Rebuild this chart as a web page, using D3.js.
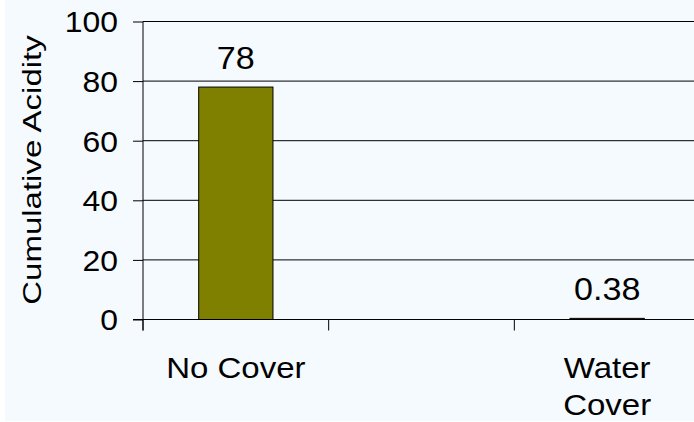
<!DOCTYPE html>
<html><head><meta charset="utf-8">
<script src="https://cdn.jsdelivr.net/npm/d3@7"></script>
<style>
html,body{margin:0;padding:0;background:#fff;overflow:hidden}
svg{display:block;font-family:"Liberation Sans",Arial,sans-serif}
</style>
</head><body><svg id="chart" width="694" height="422"></svg>
<script>
// Chart data
const categories = ["No Cover", "", "Water Cover"];
const acidity = [78, null, 0.38];
const valueLabels = ["78", null, "0.38"];
const yTickValues = [0, 20, 40, 60, 80, 100];
const yTitle = "Cumulative Acidity";

const W = 694, H = 422;
const plot = {left: 143, right: 700, top: 21.5, bottom: 319.5};
const textStretch = 1.1;

const svg = d3.select("#chart");
svg.append("rect").attr("x", 5).attr("y", 0).attr("width", W - 5).attr("height", H - 1).attr("fill", "#F5FAFE");

const x = d3.scaleBand().domain(categories).range([plot.left, plot.right]).padding(0);
const y = d3.scaleLinear().domain([0, 100]).range([plot.bottom, plot.top]);

// horizontal gridlines
svg.append("g").selectAll("line").data(yTickValues.filter(v => v > 0)).join("line")
  .attr("x1", plot.left).attr("x2", plot.right)
  .attr("y1", d => y(d)).attr("y2", d => y(d))
  .attr("stroke", "#000").attr("stroke-width", 1);

// bars
const rows = categories.map((c, i) => ({c, v: acidity[i], label: valueLabels[i]})).filter(d => d.v != null);
const barW = x.bandwidth() * 0.4;
svg.append("g").selectAll("rect").data(rows).join("rect")
  .attr("x", d => x(d.c) + (x.bandwidth() - barW) / 2)
  .attr("y", d => y(d.v))
  .attr("width", barW)
  .attr("height", d => y(0) - y(d.v))
  .attr("fill", "#808000").attr("stroke", "#000").attr("stroke-width", 1);

// value labels
svg.append("g").selectAll("text").data(rows).join("text")
  .attr("transform", d => `translate(${x(d.c) + x.bandwidth() / 2},${y(d.v) - 18}) scale(${textStretch},1)`)
  .attr("text-anchor", "middle").attr("font-size", 31).attr("fill", "#000")
  .text(d => d.label);

// y axis
const yAxis = svg.append("g").attr("transform", `translate(${plot.left},0)`)
  .call(d3.axisLeft(y).tickValues(yTickValues).tickSize(10).tickSizeOuter(0));
yAxis.select(".domain").remove();
yAxis.selectAll(".tick line").attr("stroke", "#000");
yAxis.selectAll(".tick text").remove();
yAxis.selectAll(".tick").append("text")
  .attr("transform", `translate(-25,10.3) scale(${textStretch},1)`)
  .attr("text-anchor", "end").attr("font-size", 29).attr("fill", "#000")
  .text(d => d);
svg.append("line").attr("x1", plot.left).attr("x2", plot.left)
  .attr("y1", plot.top).attr("y2", y(0) + 11).attr("stroke", "#000");

// x axis with ticks between categories
const xAxis = svg.append("g").attr("transform", `translate(0,${y(0)})`);
xAxis.append("line").attr("x1", plot.left - 10).attr("x2", plot.right).attr("stroke", "#000");
const bounds = categories.map(c => x(c)).concat([plot.right]);
xAxis.selectAll(".bt").data(bounds).join("line").attr("class", "bt")
  .attr("x1", d => d).attr("x2", d => d).attr("y1", 0).attr("y2", 11).attr("stroke", "#000");

// category labels, wrapped to the band width
const maxLabelW = 160;
categories.forEach(c => {
  if (!c) return;
  const t = xAxis.append("text")
    .attr("transform", `translate(${x(c) + x.bandwidth() / 2},58.2) scale(${textStretch},1)`)
    .attr("text-anchor", "middle").attr("font-size", 30).attr("fill", "#000");
  const words = c.split(" ");
  let line = [], lineNo = 0;
  let ts = t.append("tspan").attr("x", 0).attr("dy", 0);
  words.forEach(w => {
    line.push(w);
    ts.text(line.join(" "));
    if (ts.node().getComputedTextLength() * textStretch > maxLabelW && line.length > 1) {
      line.pop();
      ts.text(line.join(" "));
      line = [w];
      lineNo++;
      ts = t.append("tspan").attr("x", 0).attr("dy", 37).text(w);
    }
  });
});

// y axis title
svg.append("text")
  .attr("transform", "translate(40.7,170) rotate(-90) scale(1.32,1)")
  .attr("text-anchor", "middle").attr("font-size", 25).attr("fill", "#000")
  .text(yTitle);
</script>
</body></html>
